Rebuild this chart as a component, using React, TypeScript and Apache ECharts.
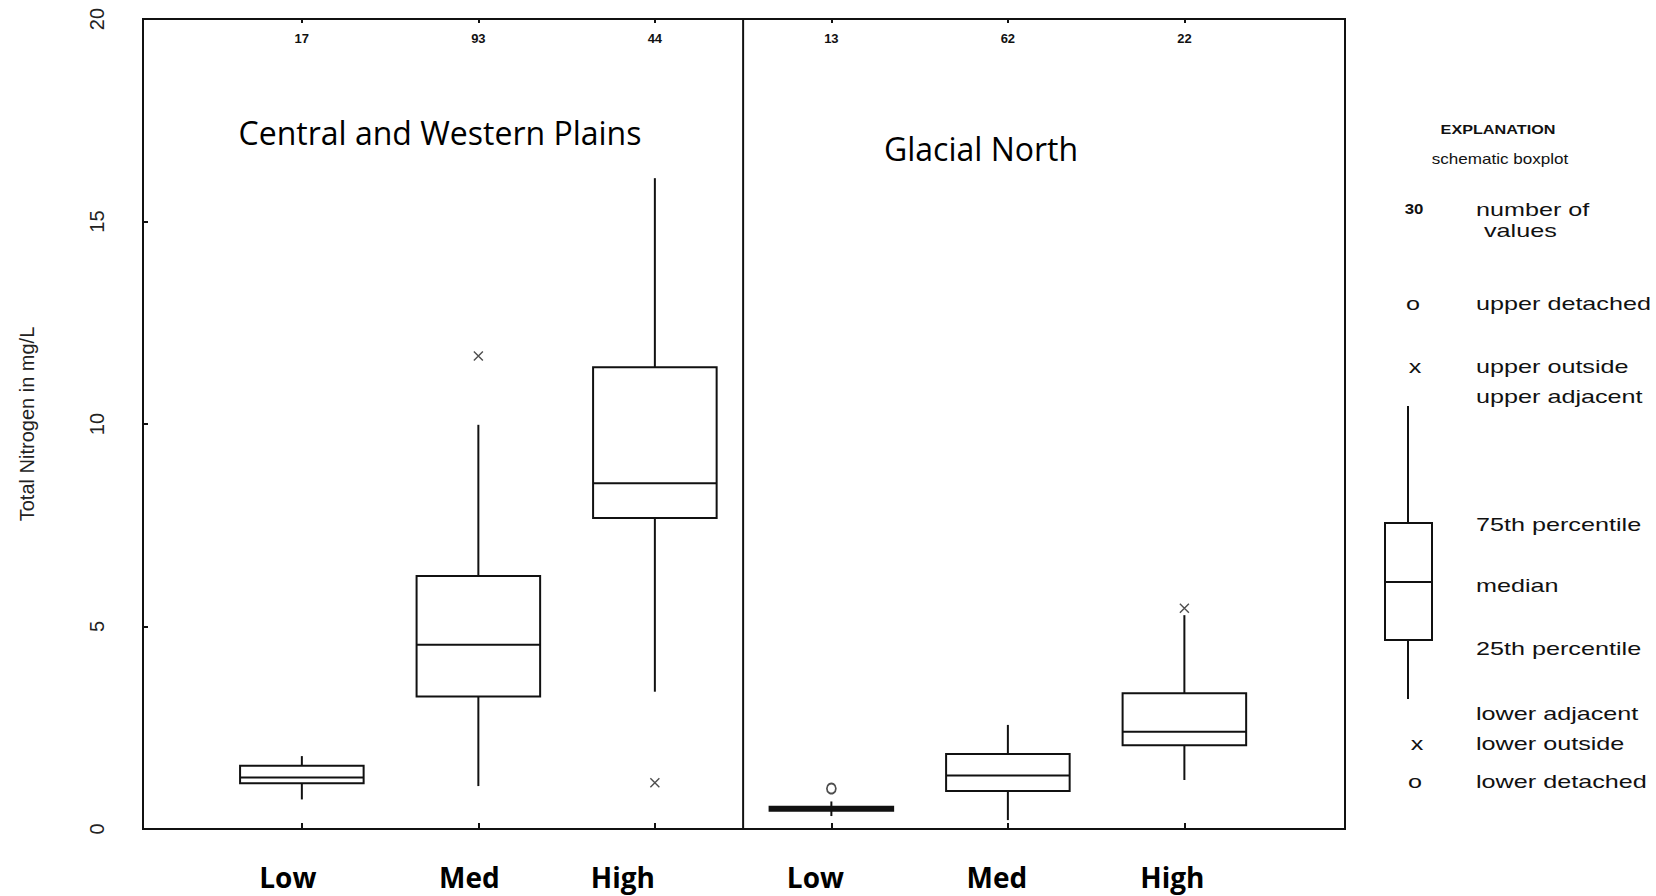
import { useEffect, useRef } from "react";
import * as echarts from "echarts";

// ---------- data ----------
const GROUPS = ["Low", "Med", "High", "Low", "Med", "High"];
const POSITIONS = [1, 2, 3, 4, 5, 6];
const COUNTS = [17, 93, 44, 13, 62, 22];
const LOWER_ADJACENT = [0.73, 1.06, 3.39, 0.32, 0.22, 1.21];
const Q1 = [1.13, 3.27, 7.68, 0.45, 0.94, 2.07];
const MEDIAN = [1.27, 4.55, 8.54, 0.5, 1.32, 2.4];
const Q3 = [1.56, 6.25, 11.4, 0.55, 1.85, 3.35];
const UPPER_ADJACENT = [1.8, 9.98, 16.07, 0.68, 2.57, 5.28];
const OUTSIDE = [
  [2, 11.68],
  [3, 1.14],
  [6, 5.45],
];
const DETACHED = [[4, 1.0]];
const REGIONS = ["Central and Western Plains", "Glacial North"];
const REGION_DIVIDER = 3.5;
const Y_MIN = 0;
const Y_MAX = 20;
const Y_INTERVAL = 5;
const X_MIN = 0.1;
const X_MAX = 6.91;
const Y_NAME = "Total Nitrogen in mg/L";
const LEGEND_TITLE = "EXPLANATION";
const LEGEND_SUBTITLE = "schematic boxplot";
const LEGEND_COUNT = "30";
const LEGEND_ITEMS = [
  "number of",
  "values",
  "upper detached",
  "upper outside",
  "upper adjacent",
  "75th percentile",
  "median",
  "25th percentile",
  "lower adjacent",
  "lower outside",
  "lower detached",
];

// ---------- styles ----------
const INK = "#111";
const BOX_WIDTH = 0.7;
const LABEL_SHIFT = [-14, -9, -32, -16, -11, -12];
const SANS = '"Liberation Sans", Arial, sans-serif';
const OPEN = '"Open Sans", sans-serif';

export default function App() {
  const ref = useRef<HTMLDivElement>(null);

  useEffect(() => {
    if (!ref.current) return;
    const chart = echarts.init(ref.current, undefined, { renderer: "svg" });

    const rich: Record<string, any> = {};
    LABEL_SHIFT.forEach((s, i) => {
      rich["s" + i] = {
        fontFamily: OPEN,
        fontWeight: "bold",
        fontSize: 28,
        color: "#000",
        padding: s < 0 ? [0, -2 * s, 0, 0] : [0, 0, 0, 2 * s],
      };
    });

    const boxData = POSITIONS.map((p, i) => [
      p,
      LOWER_ADJACENT[i],
      Q1[i],
      MEDIAN[i],
      Q3[i],
      UPPER_ADJACENT[i],
    ]);

    const legendText = (text: string, x: number, y: number, extra: any = {}) => ({
      type: "text",
      x,
      y,
      scaleX: extra.scaleX ?? 1.4,
      style: {
        text,
        font: extra.font ?? `18px ${SANS}`,
        fill: INK,
        textAlign: extra.align ?? "left",
        textVerticalAlign: "middle",
      },
    });

    const LX = 1476;
    const SX = 1413;

    const option: any = {
      animation: false,
      backgroundColor: "#fff",
      grid: {
        left: 143,
        right: 311,
        top: 19,
        bottom: 67,
        show: true,
        borderColor: INK,
        borderWidth: 2,
        backgroundColor: "transparent",
      },
      xAxis: [
        {
          type: "value",
          min: X_MIN,
          max: X_MAX,
          position: "bottom",
          splitLine: { show: false },
          axisLine: { show: true, lineStyle: { color: INK, width: 2 } },
          axisTick: {
            show: true,
            inside: true,
            length: 6,
            customValues: POSITIONS,
            lineStyle: { color: INK, width: 2 },
          },
          axisLabel: {
            customValues: POSITIONS,
            margin: 34,
            formatter: (v: number) => {
              const i = Math.round(v) - 1;
              return `{s${i}|${GROUPS[i]}}`;
            },
            rich,
          },
        },
        {
          type: "value",
          min: X_MIN,
          max: X_MAX,
          position: "top",
          splitLine: { show: false },
          axisLine: { show: true, lineStyle: { color: INK, width: 2 } },
          axisTick: {
            show: true,
            inside: true,
            length: 4,
            customValues: POSITIONS,
            lineStyle: { color: INK, width: 2 },
          },
          axisLabel: {
            inside: true,
            customValues: POSITIONS,
            margin: 13,
            fontFamily: SANS,
            fontSize: 13,
            fontWeight: "bold",
            color: INK,
            formatter: (v: number) => String(COUNTS[Math.round(v) - 1]),
          },
        },
      ],
      yAxis: {
        type: "value",
        min: Y_MIN,
        max: Y_MAX,
        interval: Y_INTERVAL,
        splitLine: { show: false },
        axisLine: { show: true, lineStyle: { color: INK, width: 2 } },
        axisTick: { show: true, inside: true, length: 5, lineStyle: { color: INK, width: 2 } },
        axisLabel: {
          rotate: 90,
          margin: 36,
          fontFamily: SANS,
          fontSize: 20,
          color: "#222",
        },
        name: Y_NAME,
        nameLocation: "middle",
        nameRotate: 90,
        nameGap: 106,
        nameTextStyle: { fontFamily: SANS, fontSize: 20, color: "#222" },
      },
      series: [
        {
          type: "custom",
          xAxisIndex: 0,
          yAxisIndex: 0,
          encode: { x: 0, y: [1, 2, 3, 4, 5] },
          data: boxData,
          silent: true,
          renderItem: (_params: any, api: any) => {
            const x = api.value(0);
            const lo = api.coord([x, api.value(1)]);
            const q1 = api.coord([x, api.value(2)]);
            const md = api.coord([x, api.value(3)]);
            const q3 = api.coord([x, api.value(4)]);
            const hi = api.coord([x, api.value(5)]);
            const w = api.size([BOX_WIDTH, 0])[0];
            const cx = lo[0];
            const left = cx - w / 2;
            const h = q1[1] - q3[1];
            const st = { stroke: INK, lineWidth: 2, fill: null };
            return {
              type: "group",
              children: [
                { type: "line", shape: { x1: cx, y1: q3[1], x2: cx, y2: hi[1] }, style: st },
                { type: "line", shape: { x1: cx, y1: q1[1], x2: cx, y2: lo[1] }, style: st },
                {
                  type: "rect",
                  shape: { x: left, y: q3[1], width: w, height: h },
                  style: { stroke: INK, lineWidth: 2, fill: h < 6 ? INK : "#fff" },
                },
                { type: "line", shape: { x1: left, y1: md[1], x2: left + w, y2: md[1] }, style: st },
              ],
            };
          },
          z: 3,
        },
        {
          type: "line",
          data: [
            [REGION_DIVIDER, Y_MIN],
            [REGION_DIVIDER, Y_MAX],
          ],
          symbol: "none",
          silent: true,
          lineStyle: { color: INK, width: 2 },
          z: 2,
        },
        {
          type: "scatter",
          data: OUTSIDE,
          symbol: "path://M0 0L10 10M10 0L0 10",
          symbolSize: [9, 9],
          silent: true,
          itemStyle: { color: "transparent", borderColor: "#222", borderWidth: 1.4 },
          z: 4,
        },
        {
          type: "scatter",
          data: DETACHED,
          symbol: "circle",
          symbolSize: [9, 10],
          silent: true,
          itemStyle: { color: "#fff", borderColor: "#222", borderWidth: 1.8 },
          z: 4,
        },
      ],
      graphic: [
        {
          type: "text",
          x: 440,
          y: 132,
          style: {
            text: REGIONS[0],
            font: `32px ${OPEN}`,
            fill: "#000",
            textAlign: "center",
            textVerticalAlign: "middle",
          },
        },
        {
          type: "text",
          x: 981,
          y: 148,
          style: {
            text: REGIONS[1],
            font: `32px ${OPEN}`,
            fill: "#000",
            textAlign: "center",
            textVerticalAlign: "middle",
          },
        },
        legendText(LEGEND_TITLE, 1498, 130, { font: `bold 12px ${SANS}`, align: "center", scaleX: 1.35 }),
        legendText(LEGEND_SUBTITLE, 1500, 159, { font: `14px ${SANS}`, align: "center", scaleX: 1.22 }),
        legendText(LEGEND_COUNT, SX + 1, 209, { font: `bold 14px ${SANS}`, align: "center", scaleX: 1.2 }),
        legendText(LEGEND_ITEMS[0], LX, 210),
        legendText(LEGEND_ITEMS[1], LX + 8, 231),
        legendText("o", SX, 304, { align: "center" }),
        legendText(LEGEND_ITEMS[2], LX, 304),
        legendText("x", SX + 2, 367, { align: "center" }),
        legendText(LEGEND_ITEMS[3], LX, 367),
        legendText(LEGEND_ITEMS[4], LX, 397),
        legendText(LEGEND_ITEMS[5], LX, 525),
        legendText(LEGEND_ITEMS[6], LX, 586),
        legendText(LEGEND_ITEMS[7], LX, 649),
        legendText(LEGEND_ITEMS[8], LX, 714),
        legendText("x", SX + 4, 744, { align: "center" }),
        legendText(LEGEND_ITEMS[9], LX, 744),
        legendText("o", SX + 2, 782, { align: "center" }),
        legendText(LEGEND_ITEMS[10], LX, 782),
        {
          type: "line",
          shape: { x1: 1408, y1: 406, x2: 1408, y2: 523 },
          style: { stroke: INK, lineWidth: 2 },
        },
        {
          type: "line",
          shape: { x1: 1408, y1: 640, x2: 1408, y2: 699 },
          style: { stroke: INK, lineWidth: 2 },
        },
        {
          type: "rect",
          shape: { x: 1385, y: 523, width: 47, height: 117 },
          style: { stroke: INK, lineWidth: 2, fill: "#fff" },
        },
        {
          type: "line",
          shape: { x1: 1385, y1: 582, x2: 1432, y2: 582 },
          style: { stroke: INK, lineWidth: 2 },
        },
      ],
    };

    chart.setOption(option);
    return () => chart.dispose();
  }, []);

  return (
    <div
      ref={ref}
      style={{ position: "fixed", left: 0, top: 0, width: 1656, height: 896, background: "#fff" }}
    />
  );
}
